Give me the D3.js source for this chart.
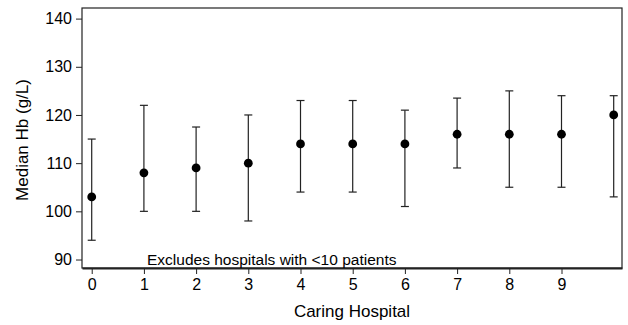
<!DOCTYPE html>
<html>
<head>
<meta charset="utf-8">
<script src="https://cdn.jsdelivr.net/npm/d3@7"></script>
<style>
  body { margin: 0; background: #fff; }
  text { font-family: "Liberation Sans", Arial, sans-serif; fill: #000; }
</style>
</head>
<body>
<svg id="chart" width="628" height="325"></svg>
<script>
const hospitals = [0, 1, 2, 3, 4, 5, 6, 7, 8, 9, 10];
const medians   = [103, 108, 109, 110, 114, 114, 114, 116, 116, 116, 120];
const lows      = [94, 100, 100, 98, 104, 104, 101, 109, 105, 105, 103];
const highs     = [115, 122, 117.5, 120, 123, 123, 121, 123.5, 125, 124, 124];
const xTicks = [0, 1, 2, 3, 4, 5, 6, 7, 8, 9];
const yTicks = [90, 100, 110, 120, 130, 140];

const W = 628, H = 325;
const m = { left: 82, top: 8, right: 6, bottom: 57 };
const svg = d3.select("#chart");
const FONT = "Liberation Sans, Arial, sans-serif";

const x = d3.scaleLinear().domain([-0.186, 10.159]).range([m.left, W - m.right]);
const y = d3.scaleLinear().domain([88.24, 142.2]).range([H - m.bottom, m.top]);

// frame
svg.append("rect")
  .attr("x", m.left).attr("y", m.top)
  .attr("width", W - m.left - m.right).attr("height", H - m.top - m.bottom)
  .attr("fill", "none").attr("stroke", "#222").attr("stroke-width", 1.2);

// axes
const yAxis = d3.axisLeft(y).tickValues(yTicks).tickSize(6).tickSizeOuter(0).tickPadding(4);
const gy = svg.append("g").attr("transform", `translate(${m.left},0)`).call(yAxis);
gy.select(".domain").remove();
gy.selectAll("line").attr("stroke", "#222");
gy.selectAll("text").style("font-size", "16px").style("font-family", FONT);

const xAxis = d3.axisBottom(x).tickValues(xTicks).tickSize(6).tickSizeOuter(0).tickPadding(5).tickFormat(d3.format("d"));
const gx = svg.append("g").attr("transform", `translate(0,${H - m.bottom})`).call(xAxis);
gx.select(".domain").attr("stroke-width", 2).attr("stroke", "#222");
gx.selectAll("line").attr("stroke", "#222");
gx.selectAll("text").style("font-size", "16px").style("font-family", FONT);

// error bars
const g = svg.append("g");
const capW = 4;
hospitals.forEach((h, i) => {
  const cx = x(h);
  g.append("line").attr("x1", cx).attr("x2", cx).attr("y1", y(lows[i])).attr("y2", y(highs[i]))
    .attr("stroke", "#222").attr("stroke-width", 1.2);
  [lows[i], highs[i]].forEach(v => {
    g.append("line").attr("x1", cx - capW).attr("x2", cx + capW).attr("y1", y(v)).attr("y2", y(v))
      .attr("stroke", "#222").attr("stroke-width", 1.2);
  });
  g.append("circle").attr("cx", cx).attr("cy", y(medians[i])).attr("r", 4.4).attr("fill", "#000");
});

// annotation
svg.append("text").attr("x", 147).attr("y", 265)
  .style("font-size", "15.5px").text("Excludes hospitals with <10 patients");

// axis titles
svg.append("text").attr("x", (m.left + W - m.right) / 2).attr("y", 317)
  .attr("text-anchor", "middle").style("font-size", "17px").text("Caring Hospital");
svg.append("text").attr("transform", `translate(28,${(m.top + H - m.bottom) / 2 + 2}) rotate(-90)`)
  .attr("text-anchor", "middle").style("font-size", "17px").text("Median Hb (g/L)");
</script>
</body>
</html>
